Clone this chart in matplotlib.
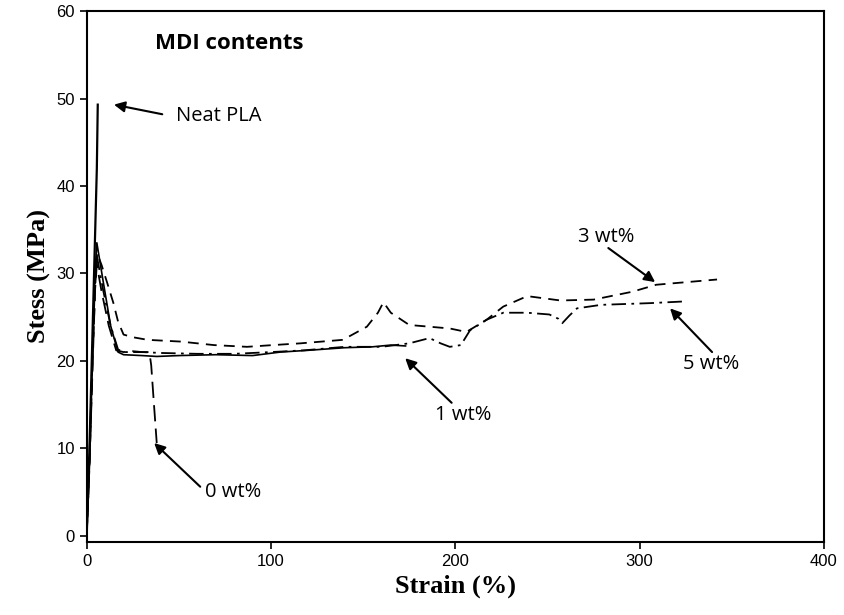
import matplotlib.pyplot as plt

# strain (%) / stress (MPa)
neat_x = [0, 1.5, 3, 4.5, 5.5, 6]
neat_y = [0, 10, 22, 34, 42, 49.3]

w0_x = [0, 1.5, 3, 4.5, 5.5, 8, 12, 16, 20, 25, 30, 34, 35, 36.5, 38]
w0_y = [0, 8, 18, 28, 31, 28, 24, 21.2, 21, 21.1, 21, 21, 19.5, 15, 10.6]

w1_x = [0, 1.5, 3, 4.5, 5.5, 9, 13, 17, 20, 30, 38, 50, 70, 90, 105, 120, 140, 155, 165, 173]
w1_y = [0, 8, 19, 30, 33.5, 29, 24, 21, 20.7, 20.6, 20.5, 20.6, 20.7, 20.6, 21, 21.2, 21.5, 21.6, 21.8, 21.7]

w3_x = [0, 1.5, 3, 4.5, 5.6, 8, 11, 14.5, 17, 20, 25, 33, 51, 69, 87, 101, 116, 139, 152, 158,
        161, 165, 175, 197, 206, 217, 226, 239, 257, 275, 296, 309, 342]
w3_y = [0, 8, 19, 28, 32.3, 31, 29, 26.6, 24.5, 23, 22.7, 22.4, 22.2, 21.8, 21.6, 21.8, 22, 22.4, 23.9, 25.5,
        26.7, 25.5, 24.1, 23.7, 23.3, 24.7, 26.2, 27.4, 26.9, 27, 27.9, 28.7, 29.3]

w5_x = [0, 1.5, 3, 4.5, 5.5, 9, 13, 17, 20, 30, 40, 60, 80, 100, 118, 140, 160, 175, 186, 192,
        197, 203, 208, 217, 226, 239, 251, 256, 258, 262, 266, 279, 306, 325]
w5_y = [0, 9, 20, 29, 32, 28, 24, 21.3, 21, 21, 20.9, 20.8, 20.8, 21, 21.2, 21.6, 21.6, 22, 22.6, 22,
        21.6, 21.8, 23.5, 24.7, 25.5, 25.5, 25.3, 24.8, 24.3, 25.2, 26, 26.4, 26.6, 26.8]

fig = plt.figure(figsize=(8.45, 6.15), dpi=100)
ax = fig.add_axes([0.1026, 0.119, 0.8725, 0.863])

ax.plot(w1_x, w1_y, color='black', lw=1.2)
ax.plot(w5_x, w5_y, color='black', lw=1.3, dashes=(8, 3, 1.5, 3))
ax.plot(w3_x, w3_y, color='black', lw=1.3, dashes=(6, 4))
ax.plot(w0_x, w0_y, color='black', lw=1.3, dashes=(9, 4))
ax.plot(neat_x, neat_y, color='black', lw=1.6)

ax.set_xlim(0, 400)
ax.set_ylim(-0.7, 60)
ax.set_xticks([0, 100, 200, 300, 400])
ax.set_yticks([0, 10, 20, 30, 40, 50, 60])
ax.tick_params(axis='both', direction='out', length=5, width=1.2, labelsize=12, top=False, right=False)
for lab in ax.get_xticklabels() + ax.get_yticklabels():
    lab.set_family('Liberation Sans')
for sp in ax.spines.values():
    sp.set_linewidth(1.5)

ax.set_xlabel('Strain (%)', fontsize=19, fontweight='bold', family='Liberation Serif', labelpad=4)
ax.set_ylabel('Stess (MPa)', fontsize=19, fontweight='bold', family='Liberation Serif', labelpad=4)

ax.text(37, 56.3, 'MDI contents', fontsize=16, fontweight='bold', family='Open Sans', va='center')

arr = dict(arrowstyle='-|>', color='black', lw=1.5, mutation_scale=16, shrinkA=0, shrinkB=0)
note = dict(fontsize=14.5, family='Open Sans', va='center')
ax.annotate('', xy=(14.8, 49.3), xytext=(41, 48.2), arrowprops=arr)
ax.text(48.5, 48.0, 'Neat PLA', **note)
ax.annotate('', xy=(36.6, 10.6), xytext=(61.6, 5.6), arrowprops=arr)
ax.text(64.3, 5.0, '0 wt%', **note)
ax.annotate('', xy=(172.8, 20.3), xytext=(198, 15.2), arrowprops=arr)
ax.text(189, 13.8, '1 wt%', **note)
ax.annotate('', xy=(308.4, 29.0), xytext=(283, 32.9), arrowprops=arr)
ax.text(266.6, 34.2, '3 wt%', **note)
ax.annotate('', xy=(316.5, 26.0), xytext=(339.3, 21.0), arrowprops=arr)
ax.text(323.6, 19.6, '5 wt%', **note)

fig.savefig('out.png', dpi=100)
